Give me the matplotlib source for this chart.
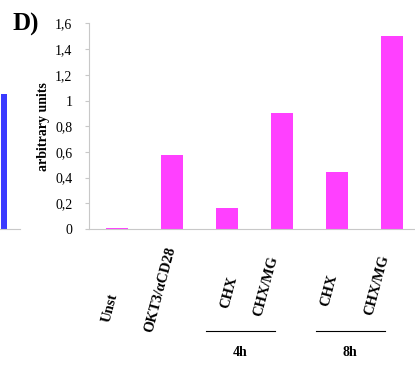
import matplotlib
matplotlib.use("Agg")
from matplotlib import pyplot as plt
from matplotlib.transforms import blended_transform_factory

# data
categories = ["Unst", "OKT3/\u03b1CD28", "CHX", "CHX/MG", "CHX", "CHX/MG"]
values = [0.01, 0.575, 0.16, 0.90, 0.44, 1.50]
yticks = [0, 0.2, 0.4, 0.6, 0.8, 1, 1.2, 1.4, 1.6]
ytick_labels = ["0", "0,2", "0,4", "0,6", "0,8", "1", "1,2", "1,4", "1,6"]
groups = ["4h", "8h"]
group_members = [(2, 3), (4, 5)]
left_panel_value = 1.05

# label placement (layout only)
label_dx = [-0.11, -0.2, 0.045, -0.28, -0.13, -0.26]
label_y = [0.160, 0.210, 0.201, 0.219, 0.208, 0.221]

plt.rcParams['font.family'] = ['Liberation Serif', 'DejaVu Serif']

fig = plt.figure(figsize=(4.15, 3.66), dpi=100)

# fragment of the neighbouring panel at the left edge
ax0 = fig.add_axes([0, 0.3743, 20 / 415, 0.5615])
ax0.bar([0], [left_panel_value], width=0.3, align='edge', color='#3a3aff')
ax0.set_xlim(-0.05, 1)
ax0.set_ylim(0, 1.6)
for s in ['top', 'right', 'left']:
    ax0.spines[s].set_visible(False)
ax0.spines['bottom'].set_color('#c8c8c8')
ax0.set_xticks([])
ax0.set_yticks([])

# main panel D
ax = fig.add_axes([89 / 415, 0.3743, 330 / 415, 0.5615])
x = list(range(len(values)))
ax.bar(x, values, width=0.4, color='#ff40ff')
ax.set_xlim(-0.5, 5.5)
ax.set_ylim(0, 1.6)
ax.set_yticks(yticks)
ax.set_yticklabels(ytick_labels, fontsize=10)
ax.set_xticks([])
for s in ['top', 'right']:
    ax.spines[s].set_visible(False)
ax.spines['left'].set_color('#c8c8c8')
ax.spines['bottom'].set_color('#c8c8c8')
ax.tick_params(axis='y', length=3, color='#c8c8c8', pad=9)
ax.set_ylabel("arbitrary units", fontsize=10, fontweight='bold')
ax.yaxis.set_label_coords(-0.118, 0.5)

# rotated category labels below the axis
trans = blended_transform_factory(ax.transData, fig.transFigure)
for i, lab in enumerate(categories):
    ax.text(i + label_dx[i], label_y[i], lab, transform=trans, rotation=75,
            ha='center', va='center', fontsize=10.5, fontweight='bold')

# group brackets
for g, (a, b) in zip(groups, group_members):
    fig.add_artist(plt.Line2D([a - 0.38, b - 0.11], [0.096, 0.096],
                              transform=trans, color='black', lw=0.8))
    ax.text((a + b) / 2 - 0.26, 0.038, g, transform=trans, ha='center',
            va='center', fontsize=10, fontweight='bold')

fig.text(12 / 415, 1 - 24 / 366, "D)", fontsize=18, fontweight='bold',
         ha='left', va='center')

fig.savefig("out.png", dpi=100)
